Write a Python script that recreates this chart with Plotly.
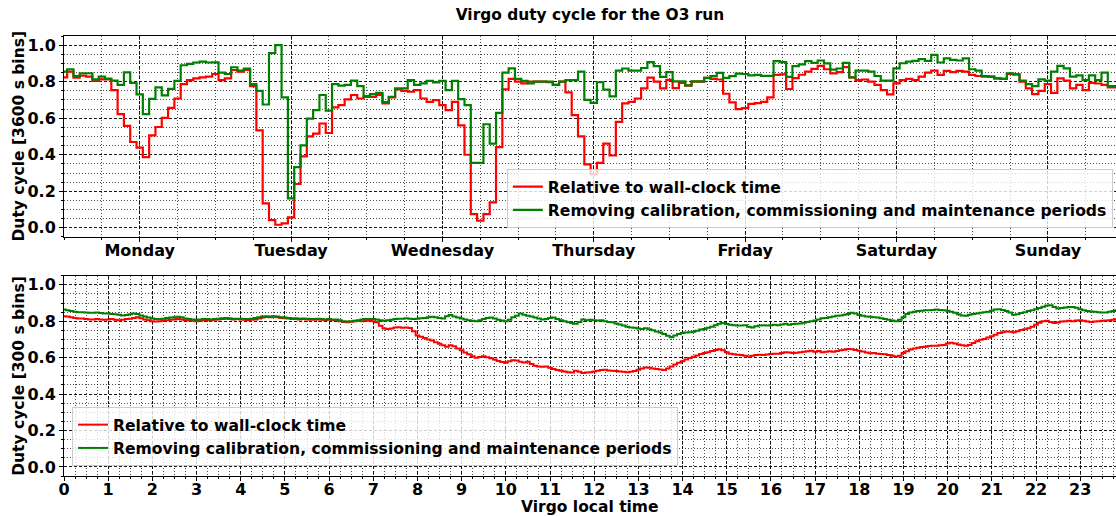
import plotly.graph_objects as go

# ---------------- data ----------------
day_labels = ["Monday", "Tuesday", "Wednesday", "Thursday", "Friday", "Saturday", "Sunday"]
day_tick_hours = [12, 36, 60, 84, 108, 132, 156]
hours_week = list(range(168))

wall_week = [
    0.824, 0.855, 0.822, 0.833, 0.828, 0.804, 0.813, 0.813, 0.754, 0.622, 0.558, 0.470,
    0.439, 0.387, 0.506, 0.552, 0.602, 0.657, 0.708, 0.787, 0.809, 0.818, 0.824, 0.828,
    0.842, 0.809, 0.818, 0.864, 0.855, 0.865, 0.776, 0.534, 0.134, 0.042, 0.017, 0.024,
    0.057, 0.240, 0.391, 0.501, 0.516, 0.571, 0.519, 0.659, 0.672, 0.703, 0.727, 0.708,
    0.717, 0.717, 0.727, 0.681, 0.714, 0.758, 0.750, 0.745, 0.754, 0.708, 0.690, 0.699,
    0.672, 0.644, 0.690, 0.561, 0.400, 0.075, 0.039, 0.075, 0.139, 0.442, 0.758, 0.815,
    0.800, 0.791, 0.800, 0.800, 0.800, 0.798, 0.782, 0.800, 0.741, 0.617, 0.501, 0.347,
    0.292, 0.356, 0.461, 0.396, 0.580, 0.681, 0.690, 0.708, 0.763, 0.822, 0.800, 0.763,
    0.810, 0.765, 0.793, 0.778, 0.800, 0.800, 0.821, 0.815, 0.812, 0.734, 0.687, 0.650,
    0.655, 0.678, 0.683, 0.690, 0.714, 0.837, 0.840, 0.760, 0.820, 0.838, 0.855, 0.870,
    0.886, 0.868, 0.845, 0.852, 0.880, 0.824, 0.809, 0.812, 0.800, 0.782, 0.754, 0.730,
    0.791, 0.809, 0.815, 0.809, 0.828, 0.850, 0.861, 0.837, 0.859, 0.852, 0.859, 0.855,
    0.837, 0.831, 0.828, 0.828, 0.818, 0.815, 0.842, 0.840, 0.800, 0.763, 0.732, 0.750,
    0.787, 0.739, 0.818, 0.806, 0.763, 0.782, 0.754, 0.794, 0.790, 0.782, 0.769, 0.769,
]

clean_week = [
    0.855, 0.868, 0.831, 0.846, 0.846, 0.813, 0.828, 0.817, 0.806, 0.782, 0.851, 0.794,
    0.730, 0.622, 0.706, 0.769, 0.725, 0.761, 0.804, 0.890, 0.897, 0.905, 0.910, 0.905,
    0.906, 0.850, 0.842, 0.879, 0.861, 0.872, 0.787, 0.750, 0.675, 0.956, 1.000, 0.714,
    0.161, 0.332, 0.451, 0.598, 0.644, 0.727, 0.642, 0.787, 0.778, 0.783, 0.806, 0.776,
    0.721, 0.732, 0.739, 0.688, 0.717, 0.763, 0.763, 0.809, 0.782, 0.791, 0.804, 0.796,
    0.804, 0.754, 0.804, 0.705, 0.672, 0.356, 0.356, 0.567, 0.461, 0.629, 0.850, 0.873,
    0.815, 0.804, 0.791, 0.800, 0.800, 0.800, 0.782, 0.800, 0.809, 0.809, 0.855, 0.700,
    0.684, 0.797, 0.756, 0.720, 0.861, 0.872, 0.861, 0.861, 0.875, 0.907, 0.885, 0.826,
    0.852, 0.802, 0.802, 0.780, 0.802, 0.802, 0.821, 0.830, 0.848, 0.821, 0.830, 0.844,
    0.842, 0.835, 0.837, 0.832, 0.832, 0.912, 0.907, 0.826, 0.885, 0.895, 0.912, 0.903,
    0.916, 0.900, 0.866, 0.872, 0.903, 0.824, 0.861, 0.860, 0.855, 0.831, 0.806, 0.806,
    0.873, 0.901, 0.910, 0.914, 0.923, 0.914, 0.947, 0.905, 0.928, 0.919, 0.916, 0.928,
    0.868, 0.861, 0.831, 0.828, 0.818, 0.815, 0.846, 0.840, 0.806, 0.787, 0.776, 0.813,
    0.806, 0.855, 0.886, 0.873, 0.828, 0.835, 0.809, 0.835, 0.809, 0.850, 0.776, 0.776,
]

hours_day = [k / 12 for k in range(288)]
hour_ticks = list(range(24))

wall_day = [
    0.828, 0.826, 0.822, 0.818, 0.815, 0.815, 0.812, 0.810, 0.810, 0.812, 0.810, 0.808,
    0.810, 0.812, 0.808, 0.806, 0.808, 0.812, 0.814, 0.818, 0.822, 0.816, 0.810, 0.805,
    0.800, 0.798, 0.800, 0.802, 0.806, 0.808, 0.810, 0.812, 0.810, 0.806, 0.804, 0.802,
    0.800, 0.802, 0.805, 0.806, 0.806, 0.808, 0.810, 0.812, 0.814, 0.812, 0.810, 0.812,
    0.810, 0.808, 0.806, 0.808, 0.810, 0.815, 0.820, 0.823, 0.822, 0.824, 0.822, 0.818,
    0.816, 0.815, 0.812, 0.812, 0.810, 0.812, 0.810, 0.808, 0.808, 0.810, 0.808, 0.806,
    0.808, 0.806, 0.806, 0.800, 0.796, 0.795, 0.797, 0.800, 0.802, 0.800, 0.802, 0.804,
    0.800, 0.795, 0.775, 0.760, 0.757, 0.760, 0.765, 0.767, 0.764, 0.766, 0.763, 0.745,
    0.722, 0.715, 0.708, 0.700, 0.694, 0.685, 0.676, 0.668, 0.660, 0.668, 0.662, 0.650,
    0.640, 0.628, 0.618, 0.608, 0.600, 0.604, 0.608, 0.602, 0.596, 0.590, 0.582, 0.576,
    0.572, 0.580, 0.586, 0.584, 0.578, 0.574, 0.578, 0.565, 0.556, 0.552, 0.550, 0.552,
    0.545, 0.538, 0.532, 0.528, 0.524, 0.520, 0.518, 0.528, 0.522, 0.515, 0.518, 0.520,
    0.524, 0.528, 0.532, 0.534, 0.530, 0.528, 0.526, 0.524, 0.522, 0.520, 0.522, 0.526,
    0.534, 0.540, 0.546, 0.545, 0.540, 0.538, 0.535, 0.532, 0.540, 0.552, 0.562, 0.572,
    0.580, 0.590, 0.598, 0.605, 0.612, 0.620, 0.626, 0.630, 0.636, 0.642, 0.646, 0.640,
    0.630, 0.622, 0.618, 0.616, 0.614, 0.610, 0.606, 0.610, 0.614, 0.616, 0.615, 0.617,
    0.620, 0.622, 0.622, 0.625, 0.630, 0.628, 0.625, 0.627, 0.630, 0.633, 0.635, 0.638,
    0.632, 0.636, 0.630, 0.632, 0.635, 0.633, 0.636, 0.640, 0.644, 0.648, 0.646, 0.642,
    0.638, 0.634, 0.628, 0.624, 0.626, 0.622, 0.620, 0.618, 0.614, 0.610, 0.606, 0.610,
    0.625, 0.635, 0.645, 0.650, 0.655, 0.658, 0.660, 0.664, 0.666, 0.666, 0.668, 0.670,
    0.678, 0.682, 0.678, 0.672, 0.668, 0.666, 0.670, 0.680, 0.690, 0.698, 0.702, 0.710,
    0.718, 0.726, 0.735, 0.740, 0.744, 0.742, 0.740, 0.745, 0.752, 0.756, 0.762, 0.770,
    0.780, 0.792, 0.800, 0.803, 0.796, 0.790, 0.793, 0.798, 0.800, 0.802, 0.800, 0.804,
    0.806, 0.802, 0.798, 0.796, 0.798, 0.800, 0.802, 0.804, 0.806, 0.808, 0.812, 0.820,
]

clean_day = [
    0.864, 0.860, 0.856, 0.852, 0.850, 0.850, 0.848, 0.846, 0.846, 0.848, 0.845, 0.842,
    0.842, 0.840, 0.838, 0.835, 0.832, 0.834, 0.838, 0.842, 0.840, 0.832, 0.826, 0.820,
    0.815, 0.812, 0.812, 0.814, 0.818, 0.820, 0.822, 0.824, 0.822, 0.815, 0.812, 0.810,
    0.808, 0.810, 0.812, 0.812, 0.810, 0.812, 0.814, 0.816, 0.818, 0.816, 0.814, 0.814,
    0.814, 0.812, 0.812, 0.814, 0.818, 0.822, 0.826, 0.828, 0.826, 0.828, 0.826, 0.822,
    0.820, 0.818, 0.816, 0.816, 0.814, 0.815, 0.813, 0.812, 0.812, 0.814, 0.812, 0.810,
    0.812, 0.810, 0.810, 0.806, 0.800, 0.798, 0.800, 0.802, 0.806, 0.810, 0.812, 0.812,
    0.812, 0.810, 0.806, 0.802, 0.805, 0.808, 0.812, 0.814, 0.814, 0.816, 0.814, 0.812,
    0.814, 0.816, 0.818, 0.822, 0.825, 0.822, 0.818, 0.815, 0.828, 0.834, 0.826, 0.820,
    0.815, 0.810, 0.806, 0.802, 0.800, 0.806, 0.812, 0.818, 0.820, 0.815, 0.808, 0.804,
    0.800, 0.808, 0.822, 0.830, 0.842, 0.836, 0.830, 0.826, 0.820, 0.815, 0.810, 0.812,
    0.818, 0.820, 0.812, 0.806, 0.800, 0.795, 0.790, 0.786, 0.796, 0.810, 0.806, 0.808,
    0.806, 0.804, 0.806, 0.800, 0.796, 0.794, 0.788, 0.782, 0.776, 0.770, 0.766, 0.764,
    0.760, 0.758, 0.762, 0.756, 0.750, 0.744, 0.738, 0.730, 0.720, 0.712, 0.722, 0.730,
    0.736, 0.738, 0.740, 0.742, 0.748, 0.754, 0.758, 0.764, 0.770, 0.778, 0.786, 0.790,
    0.785, 0.780, 0.778, 0.776, 0.776, 0.778, 0.770, 0.766, 0.772, 0.776, 0.778, 0.776,
    0.778, 0.780, 0.778, 0.782, 0.786, 0.780, 0.785, 0.786, 0.788, 0.792, 0.796, 0.800,
    0.804, 0.810, 0.816, 0.818, 0.822, 0.826, 0.830, 0.832, 0.836, 0.840, 0.846, 0.842,
    0.834, 0.830, 0.826, 0.824, 0.822, 0.820, 0.816, 0.812, 0.808, 0.804, 0.800, 0.808,
    0.822, 0.840, 0.848, 0.852, 0.856, 0.858, 0.860, 0.860, 0.862, 0.864, 0.862, 0.860,
    0.858, 0.852, 0.846, 0.838, 0.832, 0.830, 0.836, 0.840, 0.842, 0.846, 0.850, 0.852,
    0.858, 0.864, 0.866, 0.862, 0.856, 0.848, 0.836, 0.838, 0.845, 0.850, 0.856, 0.860,
    0.866, 0.872, 0.880, 0.886, 0.888, 0.878, 0.870, 0.872, 0.876, 0.878, 0.878, 0.874,
    0.866, 0.860, 0.856, 0.854, 0.852, 0.850, 0.848, 0.848, 0.852, 0.856, 0.860, 0.862,
]

label_wall = "Relative to wall-clock time"
label_clean = "Removing calibration, commissioning and maintenance periods"

# ---------------- figure ----------------
RED = "#ff0000"
GREEN = "#008000"
FONT = "DejaVu Sans"

fig = go.Figure()
fig.add_trace(go.Scatter(x=hours_week, y=wall_week, mode="lines", line=dict(color=RED, width=2.2, shape="hvh"),
                         name=label_wall, xaxis="x", yaxis="y", legend="legend"))
fig.add_trace(go.Scatter(x=hours_week, y=clean_week, mode="lines", line=dict(color=GREEN, width=2.2, shape="hvh"),
                         name=label_clean, xaxis="x", yaxis="y", legend="legend"))
fig.add_trace(go.Scatter(x=hours_day, y=wall_day, mode="lines", line=dict(color=RED, width=2, shape="hvh"),
                         name=label_wall, xaxis="x2", yaxis="y2", legend="legend2"))
fig.add_trace(go.Scatter(x=hours_day, y=clean_day, mode="lines", line=dict(color=GREEN, width=2, shape="hvh"),
                         name=label_clean, xaxis="x2", yaxis="y2", legend="legend2"))

MAJ = "rgba(0,0,0,0.9)"
MIN = "rgba(0,0,0,0.7)"
tickfont = dict(family=FONT, size=16, color="black", weight="bold")

common_axis = dict(showline=True, linecolor="black", linewidth=1, ticks="outside", ticklen=4,
                   tickcolor="black", tickfont=tickfont, showgrid=True, gridcolor=MAJ,
                   gridwidth=1, griddash="3px,2px", zeroline=False, automargin=False)
minor_common = dict(ticks="outside", ticklen=2, tickcolor="black",
                    showgrid=True, gridcolor=MIN, griddash="1px,2px", gridwidth=1)

TOP_DOM = [0.5432, 1.0]
BOT_DOM = [0.0, 0.4552]
legfont = dict(family=FONT, size=15.6, color="black", weight="bold")

fig.update_layout(
    width=1116, height=516,
    margin=dict(l=64, r=0, t=36, b=40, autoexpand=False),
    paper_bgcolor="white", plot_bgcolor="white",
    font=dict(family=FONT, size=15, color="black", weight="bold"),
    title=dict(text="Virgo duty cycle for the O3 run", x=0.5, xref="paper", y=1 - 15 / 516,
               yanchor="middle", xanchor="center", font=dict(family=FONT, size=15.4, weight="bold")),
    xaxis=dict(domain=[0, 1], anchor="y", range=[0, 166.8], tickmode="array",
               tickvals=day_tick_hours, ticktext=day_labels, mirror=True, ticklabelstandoff=-5,
               minor=dict(dtick=6, tick0=0, **minor_common), **common_axis),
    yaxis=dict(domain=TOP_DOM, anchor="x", range=[-0.05, 1.05], tick0=0, dtick=0.2, tickformat=".1f",
               minor=dict(dtick=0.05, tick0=0, **minor_common), **common_axis),
    xaxis2=dict(domain=[0, 1], anchor="y2", range=[0, 23.81], tickmode="array",
                tickvals=hour_ticks, ticktext=[str(h) for h in hour_ticks], mirror=True,
                ticklabelstandoff=-5,
                minor=dict(dtick=0.25, tick0=0, **minor_common), **common_axis),
    yaxis2=dict(domain=BOT_DOM, anchor="x2", range=[-0.05, 1.05], tick0=0, dtick=0.2, tickformat=".1f",
                minor=dict(dtick=0.05, tick0=0, **minor_common), **common_axis),
    legend=dict(x=0.997, xanchor="right", y=(476 - 228) / 440, yanchor="bottom",
                bgcolor="rgba(255,255,255,0.8)", bordercolor="#cccccc", borderwidth=1,
                font=legfont, tracegroupgap=0),
    legend2=dict(x=0.0076, xanchor="left", y=(476 - 466) / 440, yanchor="bottom",
                 bgcolor="rgba(255,255,255,0.8)", bordercolor="#cccccc", borderwidth=1,
                 font=legfont, tracegroupgap=0),
    showlegend=True,
)

ann_font = dict(family=FONT, size=15.5, color="black", weight="bold")
fig.add_annotation(text="Duty cycle [3600 s bins]", textangle=-90, x=(19 - 64) / 1052, xref="paper",
                   y=sum(TOP_DOM) / 2, yref="paper", xanchor="center", yanchor="middle",
                   showarrow=False, font=ann_font)
fig.add_annotation(text="Duty cycle [300 s bins]", textangle=-90, x=(19 - 64) / 1052, xref="paper",
                   y=sum(BOT_DOM) / 2, yref="paper", xanchor="center", yanchor="middle",
                   showarrow=False, font=ann_font)
fig.add_annotation(text="Virgo local time", x=0.5, xref="paper", y=-(507 - 476) / 440, yref="paper",
                   xanchor="center", yanchor="middle", showarrow=False, font=ann_font)

fig.write_html("out.html", config={"displayModeBar": False},
               post_script="document.body.style.margin='0px';document.body.style.overflow='hidden';")
